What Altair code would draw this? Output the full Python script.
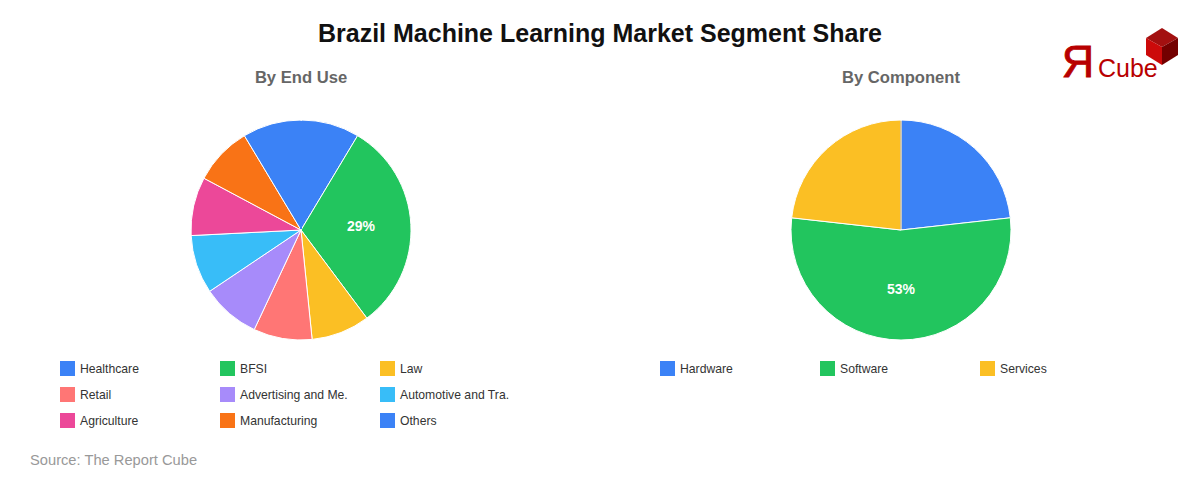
import urllib.parse

import altair as alt
import pandas as pd

# values (labels show the raw value, slices are value/total)
end_use = ["Healthcare", "BFSI", "Law", "Retail", "Advertising and Me.",
           "Automotive and Tra.", "Agriculture", "Manufacturing", "Others"]
end_use_share = [8, 29, 8, 8, 8, 8, 8, 8, 8]
end_use_label = ["", "29%", "", "", "", "", "", "", ""]
end_use_colors = ["#3b82f6", "#22c55e", "#fbbf24", "#ff7675", "#a78bfa",
                  "#38bdf8", "#ec4899", "#f97316", "#3b82f6"]

component = ["Hardware", "Software", "Services"]
component_share = [23, 53, 23]
component_label = ["", "53%", ""]
component_colors = ["#3b82f6", "#22c55e", "#fbbf24"]

FONT = "Liberation Sans"
OFFSET = 8  # page margin


def pie(names, shares, labels, colors, cx, cy, legend_x, legend_y, col_pad):
    df = pd.DataFrame({"name": names, "share": shares, "label": labels, "idx": range(len(names))})
    base = alt.Chart(df).encode(
        theta=alt.Theta("share:Q", stack=True),
        order=alt.Order("idx:Q"),
        x=alt.value(cx - OFFSET),
        y=alt.value(cy - OFFSET),
    )
    arcs = base.mark_arc(outerRadius=110, stroke="white", strokeWidth=1).encode(
        color=alt.Color(
            "name:N",
            scale=alt.Scale(domain=names, range=colors),
            legend=alt.Legend(
                title=None,
                orient="none",
                direction="horizontal",
                legendX=legend_x - OFFSET,
                legendY=legend_y - OFFSET,
                columns=3,
                gridAlign="all",
                columnPadding=col_pad,
                rowPadding=11,
                padding=0,
                symbolType="square",
                symbolSize=225,
                symbolStrokeWidth=0,
                symbolOpacity=1,
                labelFont=FONT,
                labelFontSize=12.2,
                labelColor="#333333",
                labelOffset=5,
                labelLimit=200,
            ),
        )
    )
    text = base.mark_text(radius=60, font=FONT, fontSize=14, fontWeight="bold", color="white").encode(
        text="label:N",
        detail="idx:O",
    )
    return alt.layer(arcs, text)


def label(txt, x, y, size, color, weight="normal", align="center", stroke_width=0):
    return alt.Chart(pd.DataFrame({"t": [txt]})).mark_text(
        font=FONT, fontSize=size, color=color, fontWeight=weight, align=align, baseline="alphabetic",
        stroke=color, strokeWidth=stroke_width,
    ).encode(text="t:N", x=alt.value(x - OFFSET), y=alt.value(y - OFFSET))


def seam(x, color, width):
    # the edge at twelve o'clock shows no white line in the original
    return alt.Chart(pd.DataFrame({"a": [0]})).mark_rule(color=color, strokeWidth=width).encode(
        x=alt.value(x - OFFSET), y=alt.value(121 - OFFSET), y2=alt.value(229 - OFFSET)
    )


cube_svg = (
    "<svg xmlns='http://www.w3.org/2000/svg' width='34' height='38' viewBox='0 0 34 38'>"
    "<polygon points='17,0 33,10 17,19 1,10' fill='#a31010'/>"
    "<polygon points='1,10 17,19 17,37 1,27' fill='#cc0a0a'/>"
    "<polygon points='33,10 17,19 17,37 33,27' fill='#730000'/>"
    "</svg>"
)
cube = alt.Chart(pd.DataFrame({"a": [0]})).mark_image(
    url="data:image/svg+xml," + urllib.parse.quote(cube_svg), width=34, height=38
).encode(x=alt.value(1162 - OFFSET), y=alt.value(47 - OFFSET))

chart = alt.layer(
    pie(end_use, end_use_share, end_use_label, end_use_colors, 301, 230, 60, 361, 30),
    seam(301, "#3b82f6", 2),
    pie(component, component_share, component_label, component_colors, 901, 230, 660, 361, 87),
    seam(901, "#b5a88a", 1),
    label("Brazil Machine Learning Market Segment Share", 600, 42, 25, "#111111", "bold"),
    label("By End Use", 301, 83, 16.6, "#666666", "bold"),
    label("By Component", 901, 83, 16.6, "#666666", "bold"),
    label("Source: The Report Cube", 30, 465, 14.7, "#999999", align="left"),
    label("Я", 1078, 77, 45, "#b80000", stroke_width=0.8),
    label("Cube", 1098, 77, 25, "#b80000", align="left"),
    cube,
).resolve_scale(theta="independent", color="independent").properties(
    width=1184, height=464, padding=0, autosize=alt.AutoSizeParams(type="none")
).configure_view(stroke=None)

chart.save("out.html", embed_options={"renderer": "svg", "actions": False})
